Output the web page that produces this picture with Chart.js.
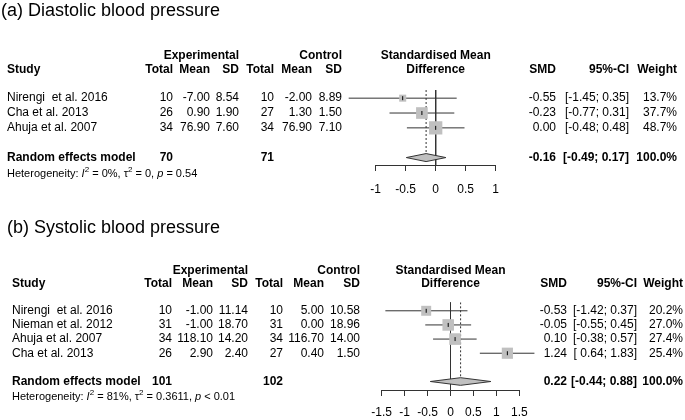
<!DOCTYPE html>
<html>
<head>
<meta charset="utf-8">
<script src="https://cdn.jsdelivr.net/npm/chart.js@4.4.1/dist/chart.umd.min.js"></script>
<style>
body{margin:0;background:#fff}
#wrap{position:relative;width:685px;height:420px}
#wrap canvas{position:absolute;left:0;top:0}
</style>
</head>
<body>
<div id="wrap">
<canvas id="forestA" width="685" height="420"></canvas>
<canvas id="forestB" width="685" height="420"></canvas>
</div>
<script>
// (a) Diastolic blood pressure
var studiesA = ['Nirengi  et al. 2016', 'Cha et al. 2013', 'Ahuja et al. 2007']
var expTotalA = [10, 26, 34]
var expMeanA = [-7.00, 0.90, 76.90]
var expSdA = [8.54, 1.90, 7.60]
var ctlTotalA = [10, 27, 34]
var ctlMeanA = [-2.00, 1.30, 76.90]
var ctlSdA = [8.89, 1.50, 7.10]
var smdA = [-0.55, -0.23, 0.00]
var lowerA = [-1.45, -0.77, -0.48]
var upperA = [0.35, 0.31, 0.48]
var weightA = [13.7, 37.7, 48.7]
var pooledA = [-0.16, -0.49, 0.17]   // smd, lower, upper
var pooledTotalA = [70, 71]
var hetA = [['Heterogeneity: ', 'n'], ['I', 'i'], ['2', 's'], [' = 0%, ', 'n'], ['\u03c4', 'n'], ['2', 's'], [' = 0, ', 'n'], ['p', 'i'], [' = 0.54', 'n']]
var tickValsA = [-1, -0.5, 0, 0.5, 1]
var tickLabelsA = ['-1', '-0.5', '0', '0.5', '1']

// (b) Systolic blood pressure
var studiesB = ['Nirengi  et al. 2016', 'Nieman et al. 2012', 'Ahuja et al. 2007', 'Cha et al. 2013']
var expTotalB = [10, 31, 34, 26]
var expMeanB = [-1.00, -1.00, 118.10, 2.90]
var expSdB = [11.14, 18.70, 14.20, 2.40]
var ctlTotalB = [10, 31, 34, 27]
var ctlMeanB = [5.00, 0.00, 116.70, 0.40]
var ctlSdB = [10.58, 18.96, 14.00, 1.50]
var smdB = [-0.53, -0.05, 0.10, 1.24]
var lowerB = [-1.42, -0.55, -0.38, 0.64]
var upperB = [0.37, 0.45, 0.57, 1.83]
var weightB = [20.2, 27.0, 27.4, 25.4]
var pooledB = [0.22, -0.44, 0.88]
var pooledTotalB = [101, 102]
var hetB = [['Heterogeneity: ', 'n'], ['I', 'i'], ['2', 's'], [' = 81%, ', 'n'], ['\u03c4', 'n'], ['2', 's'], [' = 0.3611, ', 'n'], ['p', 'i'], [' < 0.01', 'n']]
var tickValsB = [-1.5, -1, -0.5, 0, 0.5, 1, 1.5]
var tickLabelsB = ['-1.5', '-1', '-0.5', '0', '0.5', '1', '1.5']

var FONT = '"Liberation Sans", Arial, sans-serif'
var INK = '#333333'
var BOX = '#c0c0c0'

function txt(ctx, s, x, y, align, bold, size) {
    ctx.font = (bold ? 'bold ' : '') + (size || 12) + 'px ' + FONT
    ctx.textAlign = align
    ctx.fillText(s, x, y)
}

function richText(ctx, parts, x, y, size) {
    ctx.textAlign = 'left'
    for (var i = 0; i < parts.length; i++) {
        var s = parts[i][0], st = parts[i][1]
        var dy = 0
        if (st == 's') { ctx.font = Math.round(size * 0.7) + 'px ' + FONT; dy = -size * 0.4 }
        else if (st == 'i') ctx.font = 'italic ' + size + 'px ' + FONT
        else ctx.font = size + 'px ' + FONT
        ctx.fillText(s, x, y + dy)
        x += ctx.measureText(s).width
    }
}

function ciText(lo, hi) {
    var l = lo.toFixed(2)
    if (lo >= 0) l = ' ' + l
    return '[' + l + '; ' + hi.toFixed(2) + ']'
}

function makeForest(id, p) {
    var n = p.studies.length
    var sumRow = n + 1
    var h = 0.27

    var tablePlugin = {
        id: 'table',
        afterDraw: function(chart) {
            var ctx = chart.ctx
            var ys = chart.scales.y
            var c = p.cols
            var mid = (chart.chartArea.left + chart.chartArea.right) / 2
            ctx.save()
            ctx.fillStyle = '#000'
            ctx.textBaseline = 'middle'
            txt(ctx, p.title, p.titleX, p.titleY, 'left', false, 18)

            var y1 = ys.getPixelForValue(-2.85), y2 = ys.getPixelForValue(-1.92)
            txt(ctx, 'Experimental', c.sd1, y1, 'right', true)
            txt(ctx, 'Control', c.sd2, y1, 'right', true)
            txt(ctx, 'Standardised Mean', mid, y1, 'center', true)
            txt(ctx, 'Study', c.study, y2, 'left', true)
            txt(ctx, 'Total', c.tot1, y2, 'right', true)
            txt(ctx, 'Mean', c.mean1, y2, 'right', true)
            txt(ctx, 'SD', c.sd1, y2, 'right', true)
            txt(ctx, 'Total', c.tot2, y2, 'right', true)
            txt(ctx, 'Mean', c.mean2, y2, 'right', true)
            txt(ctx, 'SD', c.sd2, y2, 'right', true)
            txt(ctx, 'Difference', mid, y2, 'center', true)
            txt(ctx, 'SMD', c.smd, y2, 'right', true)
            txt(ctx, '95%-CI', c.ci, y2, 'right', true)
            txt(ctx, 'Weight', c.w, y2, 'right', true)

            for (var i = 0; i < n; i++) {
                var y = ys.getPixelForValue(i)
                txt(ctx, p.studies[i], c.study, y, 'left')
                txt(ctx, String(p.expTotal[i]), c.tot1, y, 'right')
                txt(ctx, p.expMean[i].toFixed(2), c.mean1, y, 'right')
                txt(ctx, p.expSd[i].toFixed(2), c.sd1, y, 'right')
                txt(ctx, String(p.ctlTotal[i]), c.tot2, y, 'right')
                txt(ctx, p.ctlMean[i].toFixed(2), c.mean2, y, 'right')
                txt(ctx, p.ctlSd[i].toFixed(2), c.sd2, y, 'right')
                txt(ctx, p.smd[i].toFixed(2), c.smd, y, 'right')
                txt(ctx, ciText(p.lower[i], p.upper[i]), c.ci, y, 'right')
                txt(ctx, p.weight[i].toFixed(1) + '%', c.w, y, 'right')
            }
            var ys2 = ys.getPixelForValue(sumRow)
            txt(ctx, 'Random effects model', c.study, ys2, 'left', true)
            txt(ctx, String(p.pooledTotal[0]), c.tot1, ys2, 'right', true)
            txt(ctx, String(p.pooledTotal[1]), c.tot2, ys2, 'right', true)
            txt(ctx, p.pooled[0].toFixed(2), c.smd, ys2, 'right', true)
            txt(ctx, ciText(p.pooled[1], p.pooled[2]), c.ci, ys2, 'right', true)
            txt(ctx, '100.0%', c.w, ys2, 'right', true)
            richText(ctx, p.het, c.study, ys.getPixelForValue(sumRow + 1.1), 11)
            ctx.restore()
        }
    }

    var datasets = []
    datasets.push({
        data: [{x: 0, y: p.yMin}, {x: 0, y: p.yMax}],
        showLine: true, borderColor: INK, borderWidth: 1, pointRadius: 0, order: 5
    })
    datasets.push({
        data: [{x: p.pooled[0], y: p.yMin}, {x: p.pooled[0], y: sumRow - h}],
        showLine: true, borderColor: INK, borderWidth: 1, borderDash: [2, 2], pointRadius: 0, order: 5
    })
    for (var i = 0; i < n; i++) {
        datasets.push({
            data: [{x: p.lower[i], y: i}, {x: p.upper[i], y: i}],
            showLine: true, borderColor: INK, borderWidth: 1, pointRadius: 0, order: 4, clip: false
        })
    }
    datasets.push({
        data: p.smd.map(function(v, i) { return {x: v, y: i} }),
        pointStyle: 'rect',
        pointRadius: p.weight.map(function(w) { return p.boxScale * Math.sqrt(w) / Math.SQRT2 }),
        pointBackgroundColor: BOX, pointBorderWidth: 0, order: 3, clip: false
    })
    datasets.push({
        data: p.smd.map(function(v, i) { return {x: v, y: i} }),
        pointStyle: 'line', rotation: 90, pointRadius: 2,
        pointBorderColor: '#000', pointBorderWidth: 1, order: 2
    })
    datasets.push({
        data: [{x: p.pooled[1], y: sumRow}, {x: p.pooled[0], y: sumRow - h}, {x: p.pooled[2], y: sumRow},
               {x: p.pooled[0], y: sumRow + h}, {x: p.pooled[1], y: sumRow}],
        showLine: true, fill: 'shape', backgroundColor: BOX, borderColor: INK, borderWidth: 1,
        pointRadius: 0, order: 1, clip: false
    })

    return new Chart(document.getElementById(id), {
        type: 'scatter',
        data: {datasets: datasets},
        options: {
            responsive: false,
            animation: false,
            events: [],
            layout: {padding: {left: p.area[0], right: 685 - p.area[1], top: p.area[2], bottom: 420 - p.area[3] - 30}},
            plugins: {legend: {display: false}, tooltip: {enabled: false}},
            scales: {
                x: {
                    type: 'linear', min: p.ticks[0], max: p.ticks[p.ticks.length - 1],
                    afterBuildTicks: function(s) { s.ticks = p.ticks.map(function(v) { return {value: v} }) },
                    afterFit: function(s) { s.height = 30 },
                    border: {color: INK, width: 1},
                    grid: {drawOnChartArea: false, tickLength: 6, color: INK},
                    ticks: {
                        color: '#000', padding: p.tickPad, autoSkip: false, maxRotation: 0,
                        font: {size: 12, family: FONT},
                        callback: function(v, i) { return p.tickLabels[i] }
                    }
                },
                y: {type: 'linear', display: false, reverse: true, min: p.yMin, max: p.yMax}
            }
        },
        plugins: [tablePlugin]
    })
}

makeForest('forestA', {
    title: '(a) Diastolic blood pressure', titleX: 1, titleY: 11,
    studies: studiesA, expTotal: expTotalA, expMean: expMeanA, expSd: expSdA,
    ctlTotal: ctlTotalA, ctlMean: ctlMeanA, ctlSd: ctlSdA,
    smd: smdA, lower: lowerA, upper: upperA, weight: weightA,
    pooled: pooledA, pooledTotal: pooledTotalA, het: hetA,
    ticks: tickValsA, tickLabels: tickLabelsA,
    yMin: -0.55, yMax: 4.5, area: [375.7, 495.7, 90, 165], tickPad: 11, boxScale: 1.9,
    cols: {study: 7, tot1: 173, mean1: 210, sd1: 239, tot2: 274, mean2: 312, sd2: 342, smd: 556, ci: 629, w: 677}
})

makeForest('forestB', {
    title: '(b) Systolic blood pressure', titleX: 7, titleY: 228,
    studies: studiesB, expTotal: expTotalB, expMean: expMeanB, expSd: expSdB,
    ctlTotal: ctlTotalB, ctlMean: ctlMeanB, ctlSd: ctlSdB,
    smd: smdB, lower: lowerB, upper: upperB, weight: weightB,
    pooled: pooledB, pooledTotal: pooledTotalB, het: hetB,
    ticks: tickValsB, tickLabels: tickLabelsB,
    yMin: -0.6, yMax: 5.6, area: [381.7, 519.3, 302.3, 390], tickPad: 9, boxScale: 2.22,
    cols: {study: 12, tot1: 172, mean1: 213, sd1: 248, tot2: 283, mean2: 324, sd2: 360, smd: 567, ci: 637, w: 683}
})
</script>
</body>
</html>
